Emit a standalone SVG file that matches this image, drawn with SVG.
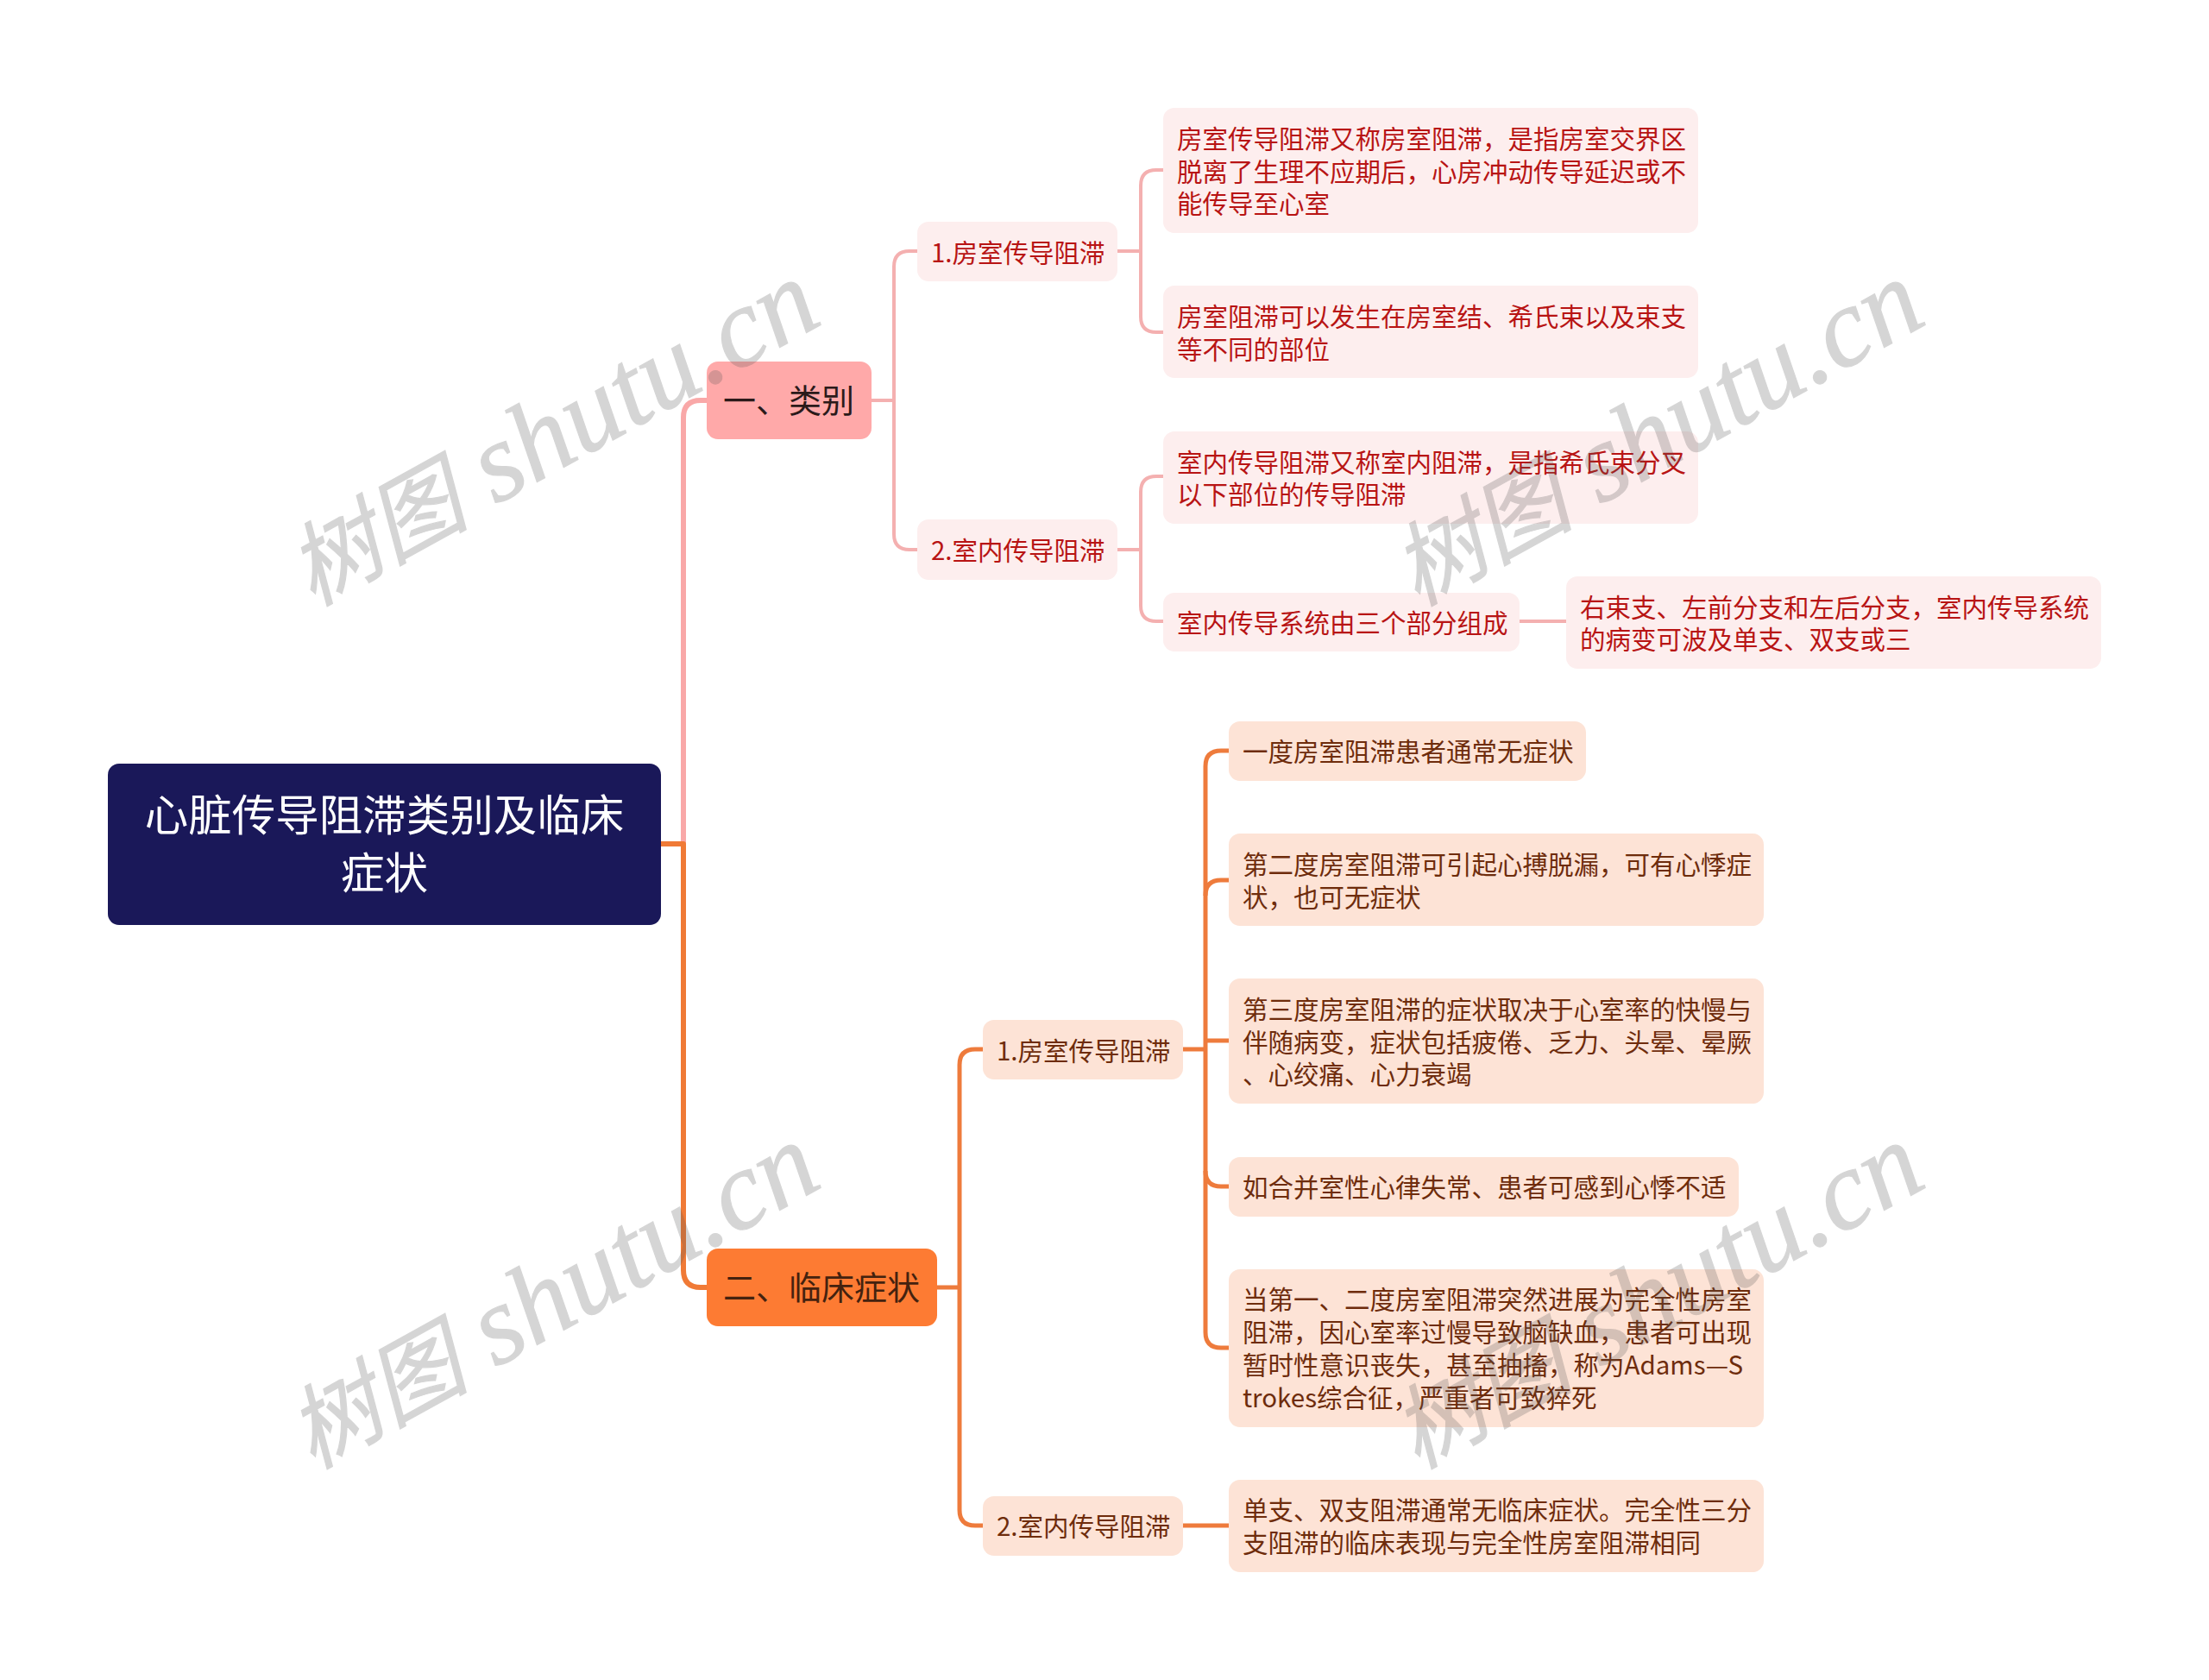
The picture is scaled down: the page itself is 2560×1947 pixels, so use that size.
<svg xmlns="http://www.w3.org/2000/svg" xmlns:xlink="http://www.w3.org/1999/xlink" width="2560" height="1947" viewBox="0 0 2560 1947">
<style>
text{font-family:"Noto Sans CJK SC","Noto Sans",sans-serif}
.c{fill:none;stroke-linecap:butt;stroke-linejoin:round}
.p1{stroke:#f9a8a8;stroke-width:6}
.p2{stroke:#f4b0b0;stroke-width:4}
.o1{stroke:#f07a36;stroke-width:6}
.o2{stroke:#ee7b3c;stroke-width:5}
.pl rect{fill:#fdeeee}
.pl text{fill:#b81414;font-size:29.5px}
.ol rect{fill:#fde3d6}
.ol text{fill:#6e2c0c;font-size:29.5px}
.wm{font-family:"Liberation Serif","Noto Sans CJK SC",serif;font-style:italic;font-size:130px;fill:#555;stroke:#555;stroke-width:1.2;opacity:.24}
.wm .h{font-size:105px;font-weight:400}
</style>
<defs><text id="wm" class="wm" x="0" y="0"><tspan class="h">树图</tspan> shutu.cn</text></defs>
<rect width="2560" height="1947" fill="#fff"/>
<g id="connectors">
<path class="c p1" d="M766 978H792V484Q792 464 812 464H819"/>
<path class="c o1" d="M766 978H792V1472Q792 1492 812 1492H819"/>
<path class="c p2" d="M1009 464H1036"/>
<path class="c p2" d="M1063 291H1054Q1036 291 1036 309V619Q1036 637 1054 637H1063"/>
<path class="c p2" d="M1294 291H1322"/>
<path class="c p2" d="M1348 197H1340Q1322 197 1322 215V367Q1322 385 1340 385H1348"/>
<path class="c p2" d="M1294 637H1322"/>
<path class="c p2" d="M1348 552H1340Q1322 552 1322 570V702Q1322 720 1340 720H1348"/>
<path class="c p2" d="M1761 720H1816"/>
<path class="c o2" d="M1085 1492H1112"/>
<path class="c o2" d="M1139 1216H1130Q1112 1216 1112 1234V1750Q1112 1768 1130 1768H1139"/>
<path class="c o2" d="M1370 1216H1397"/>
<path class="c o2" d="M1424 870H1415Q1397 870 1397 888V1544Q1397 1562 1415 1562H1424"/>
<path class="c o2" d="M1424 1020H1415Q1397 1020 1397 1038"/>
<path class="c o2" d="M1397 1206H1424"/>
<path class="c o2" d="M1397 1357Q1397 1375 1415 1375H1424"/>
<path class="c o2" d="M1370 1768H1424"/>
</g>
<g id="root"><rect x="125" y="885" width="641" height="187" rx="13" fill="#1a1859"/>
<text x="445.500" y="963" text-anchor="middle" font-size="50.5" fill="#fff">心脏传导阻滞类别及临床</text>
<text x="445.500" y="1030" text-anchor="middle" font-size="50.5" fill="#fff">症状</text></g>
<g id="b1"><rect x="819" y="419" width="191" height="90" rx="13" fill="#ffa9a9"/>
<text x="838" y="478" font-size="38" fill="#2b1a1a">一、类别</text></g>
<g id="b2"><rect x="819" y="1447" width="267" height="90" rx="13" fill="#fd7b33"/>
<text x="838" y="1506" font-size="38" fill="#44220f">二、临床症状</text></g>
<g id="n1" class="pl"><rect x="1063" y="257" width="232" height="69" rx="13"/><text x="1079" y="304">1.房室传导阻滞</text></g>
<g id="n2" class="pl"><rect x="1063" y="602" width="232" height="70" rx="13"/><text x="1079" y="649">2.室内传导阻滞</text></g>
<g id="a" class="pl"><rect x="1348" y="125" width="620" height="145" rx="13"/><text x="1364" y="172">房室传导阻滞又称房室阻滞，是指房室交界区</text><text x="1364" y="210">脱离了生理不应期后，心房冲动传导延迟或不</text><text x="1364" y="247">能传导至心室</text></g>
<g id="b" class="pl"><rect x="1348" y="331" width="620" height="107" rx="13"/><text x="1364" y="378">房室阻滞可以发生在房室结、希氏束以及束支</text><text x="1364" y="416">等不同的部位</text></g>
<g id="c" class="pl"><rect x="1348" y="500" width="620" height="107" rx="13"/><text x="1364" y="547">室内传导阻滞又称室内阻滞，是指希氏束分叉</text><text x="1364" y="584">以下部位的传导阻滞</text></g>
<g id="d" class="pl"><rect x="1348" y="687" width="413" height="68" rx="13"/><text x="1364" y="733">室内传导系统由三个部分组成</text></g>
<g id="e" class="pl"><rect x="1815" y="668" width="620" height="107" rx="13"/><text x="1831" y="715">右束支、左前分支和左后分支，室内传导系统</text><text x="1831" y="752">的病变可波及单支、双支或三</text></g>
<g id="n3" class="ol"><rect x="1139" y="1182" width="232" height="69" rx="13"/><text x="1155" y="1229">1.房室传导阻滞</text></g>
<g id="n4" class="ol"><rect x="1139" y="1734" width="232" height="69" rx="13"/><text x="1155" y="1780">2.室内传导阻滞</text></g>
<g id="l1" class="ol"><rect x="1424" y="836" width="414" height="69" rx="13"/><text x="1440" y="882">一度房室阻滞患者通常无症状</text></g>
<g id="l2" class="ol"><rect x="1424" y="966" width="620" height="107" rx="13"/><text x="1440" y="1013">第二度房室阻滞可引起心搏脱漏，可有心悸症</text><text x="1440" y="1051">状，也可无症状</text></g>
<g id="l3" class="ol"><rect x="1424" y="1134" width="620" height="145" rx="13"/><text x="1440" y="1181">第三度房室阻滞的症状取决于心室率的快慢与</text><text x="1440" y="1219">伴随病变，症状包括疲倦、乏力、头晕、晕厥</text><text x="1440" y="1256">、心绞痛、心力衰竭</text></g>
<g id="l4" class="ol"><rect x="1424" y="1341" width="591" height="69" rx="13"/><text x="1440" y="1387">如合并室性心律失常、患者可感到心悸不适</text></g>
<g id="l5" class="ol"><rect x="1424" y="1471" width="620" height="183" rx="13"/><text x="1440" y="1517">当第一、二度房室阻滞突然进展为完全性房室</text><text x="1440" y="1555">阻滞，因心室率过慢导致脑缺血，患者可出现</text><text x="1440" y="1593">暂时性意识丧失，甚至抽搐，称为Adams—S</text><text x="1440" y="1631">trokes综合征，严重者可致猝死</text></g>
<g id="l6" class="ol"><rect x="1424" y="1715" width="620" height="107" rx="13"/><text x="1440" y="1761">单支、双支阻滞通常无临床症状。完全性三分</text><text x="1440" y="1799">支阻滞的临床表现与完全性房室阻滞相同</text></g>
<g id="watermarks">
<use href="#wm" transform="translate(362 703) rotate(-29)"/>
<use href="#wm" transform="translate(1642 703) rotate(-29)"/>
<use href="#wm" transform="translate(362 1703) rotate(-29)"/>
<use href="#wm" transform="translate(1642 1703) rotate(-29)"/>
</g>
</svg>
